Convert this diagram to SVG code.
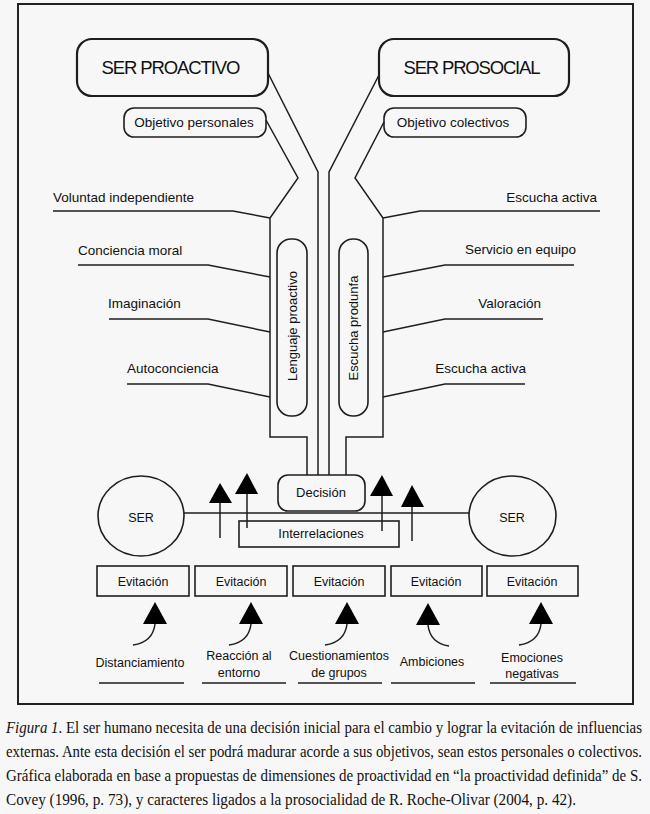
<svg xmlns="http://www.w3.org/2000/svg" width="650" height="814" viewBox="0 0 650 814">
<style>
.ln{fill:none;stroke:#1e1e1e;stroke-width:1.5}
.bx{fill:none;stroke:#1e1e1e;stroke-width:1.6}
.big{fill:none;stroke:#1e1e1e;stroke-width:2.2}
.t{font-family:"Liberation Sans",Arial,sans-serif;fill:#111}
.tri{fill:#000}
.cap{font-family:"Liberation Serif","Times New Roman",serif;font-size:13.5px;fill:#111}
</style>
<rect width="650" height="814" fill="#f7f7f7"/>
<rect x="18" y="4" width="615" height="700" fill="none" stroke="#222" stroke-width="2"/>

<g id="connectors">
<path class="ln" d="M268,73 L318,172 L318,475"/>
<path class="ln" d="M379,75 L329,172 L329,475"/>
<path class="ln" d="M266,120 L298,178 L270,218 L270,437 L307,437 L307,475"/>
<path class="ln" d="M384,122 L355,178 L383,218 L383,437 L346,437 L346,475"/>
<path class="ln" d="M53,211 L233,211 L270,218"/>
<path class="ln" d="M78,265 L208,265 L270,277"/>
<path class="ln" d="M109,319 L208,319 L270,332"/>
<path class="ln" d="M127,384 L208,384 L270,397"/>
<path class="ln" d="M600,211 L420,211 L383,218"/>
<path class="ln" d="M574,265 L445,265 L383,277"/>
<path class="ln" d="M543,319 L445,319 L383,332"/>
<path class="ln" d="M525,384 L445,384 L383,397"/>
<path class="ln" d="M184,513 L469,513"/>
<path class="ln" d="M220,538 L220,503"/>
<polygon class="tri" points="220,483 209,503 232,503"/>
<path class="ln" d="M247,528 L247,494"/>
<polygon class="tri" points="247,473 235,494 258,494"/>
<path class="ln" d="M382,531 L382,496"/>
<polygon class="tri" points="382,475 370,496 393,496"/>
<path class="ln" d="M412,541 L412,507"/>
<polygon class="tri" points="412,485 401,507 424,507"/>
<polygon class="tri" points="155,602 143,624 167,624"/>
<path class="ln" d="M155,624 Q153,642 133,645"/>
<polygon class="tri" points="251,602 239,624 263,624"/>
<path class="ln" d="M251,624 Q249,642 229,645"/>
<polygon class="tri" points="347,602 335,624 359,624"/>
<path class="ln" d="M347,624 Q345,642 325,645"/>
<polygon class="tri" points="428,603 416,625 440,625"/>
<path class="ln" d="M428,625 Q430,643 449,646"/>
<polygon class="tri" points="541,602 529,624 553,624"/>
<path class="ln" d="M541,624 Q539,642 519,645"/>
<path class="ln" d="M99,683 L184,683 M202,683 L286,683 M298,683 L382,683 M391,683 L475,683 M490,683 L576,683"/>
</g>

<g id="ser-proactivo">
<rect class="big" x="77" y="39" width="191" height="57" rx="15"/>
<text class="t" x="171" y="74" font-size="18.5" text-anchor="middle" textLength="139">SER PROACTIVO</text>
</g>
<g id="ser-prosocial">
<rect class="big" x="379" y="39" width="190" height="57" rx="15"/>
<text class="t" x="472" y="74" font-size="18.5" text-anchor="middle" textLength="137">SER PROSOCIAL</text>
</g>
<g id="objetivo-personales">
<rect class="bx" x="124" y="108" width="142" height="29" rx="10"/>
<text class="t" x="194" y="127" font-size="13.5" text-anchor="middle">Objetivo personales</text>
</g>
<g id="objetivo-colectivos">
<rect class="bx" x="384" y="108" width="142" height="29" rx="10"/>
<text class="t" x="453" y="127" font-size="13.5" text-anchor="middle">Objetivo colectivos</text>
</g>

<g id="labels-left">
<text class="t" x="53" y="202" font-size="13.5">Voluntad independiente</text>
<text class="t" x="78" y="255" font-size="13.5">Conciencia moral</text>
<text class="t" x="108" y="308" font-size="13.5">Imaginación</text>
<text class="t" x="127" y="373" font-size="13.5">Autoconciencia</text>
</g>
<g id="labels-right">
<text class="t" x="597" y="202" font-size="13.5" text-anchor="end">Escucha activa</text>
<text class="t" x="576" y="254" font-size="13.5" text-anchor="end">Servicio en equipo</text>
<text class="t" x="541" y="308" font-size="13.5" text-anchor="end">Valoración</text>
<text class="t" x="526" y="373" font-size="13.5" text-anchor="end">Escucha activa</text>
</g>

<g id="lenguaje-proactivo">
<rect class="bx" x="277" y="239" width="30" height="177" rx="14"/>
<text class="t" transform="translate(297,326) rotate(-90)" font-size="13" text-anchor="middle">Lenguaje proactivo</text>
</g>
<g id="escucha-produnfa">
<rect class="bx" x="339" y="239" width="29" height="177" rx="14"/>
<text class="t" transform="translate(358,328) rotate(-90)" font-size="13" text-anchor="middle">Escucha produnfa</text>
</g>

<g id="decision">
<rect class="bx" x="278" y="475" width="87" height="36" rx="10" fill="#f7f7f7"/>
<text class="t" x="321" y="497" font-size="13" text-anchor="middle">Decisión</text>
</g>
<g id="interrelaciones">
<rect class="bx" x="239" y="521" width="160" height="26"/>
<text class="t" x="321" y="538" font-size="13" text-anchor="middle">Interrelaciones</text>
</g>
<g id="ser-left">
<ellipse class="bx" cx="141" cy="516" rx="43" ry="40"/>
<text class="t" x="141" y="522" font-size="12.5" text-anchor="middle">SER</text>
</g>
<g id="ser-right">
<ellipse class="bx" cx="512.5" cy="516" rx="43.5" ry="40"/>
<text class="t" x="512" y="522" font-size="12.5" text-anchor="middle">SER</text>
</g>

<g id="evitacion-1"><rect class="bx" x="97" y="566" width="92" height="30"/><text class="t" x="143" y="586" font-size="12.5" text-anchor="middle">Evitación</text></g>
<g id="evitacion-2"><rect class="bx" x="195" y="566" width="92" height="30"/><text class="t" x="241" y="586" font-size="12.5" text-anchor="middle">Evitación</text></g>
<g id="evitacion-3"><rect class="bx" x="293" y="566" width="92" height="30"/><text class="t" x="339" y="586" font-size="12.5" text-anchor="middle">Evitación</text></g>
<g id="evitacion-4"><rect class="bx" x="391" y="566" width="91" height="30"/><text class="t" x="436" y="586" font-size="12.5" text-anchor="middle">Evitación</text></g>
<g id="evitacion-5"><rect class="bx" x="487" y="566" width="91" height="30"/><text class="t" x="532" y="586" font-size="12.5" text-anchor="middle">Evitación</text></g>

<g id="influencias">
<text class="t" x="140" y="667" font-size="12.5" text-anchor="middle">Distanciamiento</text>
<text class="t" x="239" y="660" font-size="12.5" text-anchor="middle">Reacción al</text>
<text class="t" x="239" y="677" font-size="12.5" text-anchor="middle">entorno</text>
<text class="t" x="339" y="660" font-size="12.5" text-anchor="middle">Cuestionamientos</text>
<text class="t" x="339" y="677" font-size="12.5" text-anchor="middle">de grupos</text>
<text class="t" x="432" y="666" font-size="12.5" text-anchor="middle">Ambiciones</text>
<text class="t" x="532" y="662" font-size="12.5" text-anchor="middle">Emociones</text>
<text class="t" x="532" y="678" font-size="12.5" text-anchor="middle">negativas</text>
</g>

<g id="caption" transform="scale(1,1.2)">
<text class="cap" x="6" y="610.8" textLength="636" lengthAdjust="spacingAndGlyphs"><tspan font-style="italic">Figura 1</tspan>. El ser humano necesita de una decisión inicial para el cambio y lograr la evitación de influencias</text>
<text class="cap" x="6" y="630.8" textLength="636" lengthAdjust="spacingAndGlyphs">externas. Ante esta decisión el ser podrá madurar acorde a sus objetivos, sean estos personales o colectivos.</text>
<text class="cap" x="6" y="650.8" textLength="636" lengthAdjust="spacingAndGlyphs">Gráfica elaborada en base a propuestas de dimensiones de proactividad en “la proactividad definida” de S.</text>
<text class="cap" x="6" y="670.8" textLength="570" lengthAdjust="spacingAndGlyphs">Covey (1996, p. 73), y caracteres ligados a la prosocialidad de R. Roche-Olivar (2004, p. 42).</text>
</g>
</svg>
